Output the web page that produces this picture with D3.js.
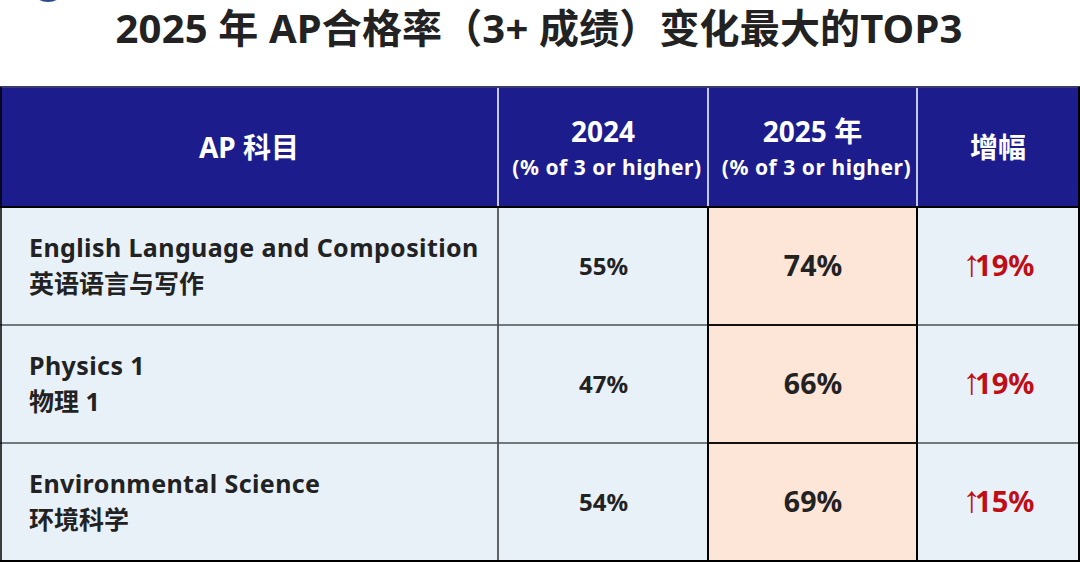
<!DOCTYPE html>
<html>
<head>
<meta charset="utf-8">
<script src="https://cdn.jsdelivr.net/npm/d3@7"></script>
<style>
  html, body { margin: 0; padding: 0; background: #fff; }
  svg { display: block; }
  text { font-family: "Noto Sans", "Noto Sans CJK SC", sans-serif; font-weight: 700; }
</style>
</head>
<body>
<div id="chart"></div>
<script>
// table content
const title = "2025 年 AP合格率（3+ 成绩）变化最大的TOP3";
const columns = ["subject", "y2024", "y2025", "change"];
const headerMain = ["AP 科目", "2024", "2025 年", "增幅"];
const headerSub = ["", "(% of 3 or higher)", "(% of 3 or higher)", ""];
const subjectsEn = ["English Language and Composition", "Physics 1", "Environmental Science"];
const subjectsZh = ["英语语言与写作", "物理 1", "环境科学"];
const rate2024 = [55, 47, 54];
const rate2025 = [74, 66, 69];
const change = [19, 19, 15];

const width = 1080;
const height = 562;

const NAVY = "#1c1c8c";
const ROW_BG = "#e9f1f8";
const HILITE = "#fde5d8";
const INK = "#222222";
const RED = "#c00d16";

// column edges measured from the table, rows are equal height
const colEdges = [0, 498, 708, 917, 1079];
const colLeft = d3.scaleOrdinal().domain(columns).range(colEdges.slice(0, -1));
const colRight = d3.scaleOrdinal().domain(columns).range(colEdges.slice(1));
const colMid = (c) => (colLeft(c) + colRight(c)) / 2;

const headTop = 87;
const headBottom = 207;
const tableBottom = 561;
const rowY = d3.scaleBand().domain(d3.range(subjectsEn.length)).range([headBottom, tableBottom]);

const svg = d3.select("#chart").append("svg")
  .attr("width", width)
  .attr("height", height)
  .attr("viewBox", `0 0 ${width} ${height}`);

// sliver of a logo cut off by the top edge
svg.append("ellipse")
  .attr("cx", 48).attr("cy", -6).attr("rx", 13).attr("ry", 8)
  .attr("fill", "#2a4a8c");

svg.append("text")
  .attr("x", 539)
  .attr("y", 42.5)
  .attr("text-anchor", "middle")
  .attr("font-size", 40)
  .attr("letter-spacing", 0.15)
  .attr("fill", INK)
  .text(title);

// ---- header ----
svg.append("rect")
  .attr("x", 0).attr("y", headTop)
  .attr("width", width).attr("height", headBottom - headTop)
  .attr("fill", NAVY);

const head = svg.selectAll("g.head")
  .data(columns)
  .enter().append("g")
  .attr("class", "head")
  .attr("fill", "#ffffff");

head.append("text")
  .attr("x", colMid)
  .attr("y", (d, i) => headerSub[i] ? 142 : 158)
  .attr("text-anchor", "middle")
  .attr("font-size", 28)
  .text((d, i) => headerMain[i]);

head.append("text")
  .attr("x", (d) => colMid(d) + 4)
  .attr("y", 175)
  .attr("text-anchor", "middle")
  .attr("font-size", 21)
  .attr("letter-spacing", 0.55)
  .text((d, i) => headerSub[i]);

// ---- body ----
svg.selectAll("rect.cell")
  .data(d3.cross(d3.range(subjectsEn.length), columns))
  .enter().append("rect")
  .attr("class", "cell")
  .attr("x", (d) => colLeft(d[1]))
  .attr("y", (d) => rowY(d[0]))
  .attr("width", (d) => colRight(d[1]) - colLeft(d[1]))
  .attr("height", rowY.bandwidth())
  .attr("fill", (d) => d[1] === "y2025" ? HILITE : ROW_BG);

const rows = svg.selectAll("g.row")
  .data(d3.range(subjectsEn.length))
  .enter().append("g")
  .attr("class", "row")
  .attr("transform", (i) => `translate(0,${rowY(i)})`);

rows.append("text")
  .attr("x", 29).attr("y", 50)
  .attr("font-size", 25).attr("letter-spacing", 0.4).attr("fill", INK)
  .text((i) => subjectsEn[i]);

rows.append("text")
  .attr("x", 29).attr("y", 86.2)
  .attr("font-size", 25).attr("fill", INK)
  .text((i) => subjectsZh[i]);

rows.append("text")
  .attr("x", colMid("y2024") + 0.5).attr("y", 68)
  .attr("text-anchor", "middle")
  .attr("font-size", 24).attr("fill", INK)
  .text((i) => `${rate2024[i]}%`);

rows.append("text")
  .attr("x", colMid("y2025") + 0.5).attr("y", 69)
  .attr("text-anchor", "middle")
  .attr("font-size", 28.5).attr("fill", INK)
  .text((i) => `${rate2025[i]}%`);

// arrow is a thin glyph, narrower than the Noto one
const changeText = rows.append("text")
  .attr("x", colMid("change") + 0.5).attr("y", 69)
  .attr("text-anchor", "middle")
  .attr("font-size", 29).attr("fill", RED);
changeText.append("tspan")
  .style("font-family", "'Liberation Sans'")
  .style("font-weight", 400)
  .attr("font-size", 37)
  .attr("letter-spacing", -6)
  .text("↑");
changeText.append("tspan")
  .text((i) => `${change[i]}%`);

// ---- rules ----
const rule = (x1, y1, x2, y2, color, w) => svg.append("line")
  .attr("x1", x1).attr("y1", y1).attr("x2", x2).attr("y2", y2)
  .attr("stroke", color).attr("stroke-width", w);

// header column dividers are pale, body ones dark
colEdges.slice(1, -1).forEach((x) => {
  rule(x, headTop, x, headBottom, "#c3c8ec", 2);
  rule(x, headBottom, x, tableBottom, "#333333", 1.5);
});
rowY.domain().slice(1).forEach((i) => {
  rule(0, rowY(i), width, rowY(i), "#4a5054", 1.5);
});

// thick black box around the 2025 column
rule(colLeft("y2025"), headBottom, colLeft("y2025"), tableBottom, "#000", 2);
rule(colRight("y2025"), headBottom, colRight("y2025"), tableBottom, "#000", 2);
rowY.domain().slice(1).forEach((i) => {
  rule(colLeft("y2025"), rowY(i), colRight("y2025"), rowY(i), "#111", 2);
});

rule(0, headTop, width, headTop, "#3a3a6a", 2);
rule(0, headBottom, width, headBottom, "#000", 2);
rule(0, tableBottom, width, tableBottom, "#000", 2);
rule(1, headTop, 1, tableBottom, "#000", 1.5);
rule(1079, headTop, 1079, tableBottom, "#000", 2);
</script>
</body>
</html>
